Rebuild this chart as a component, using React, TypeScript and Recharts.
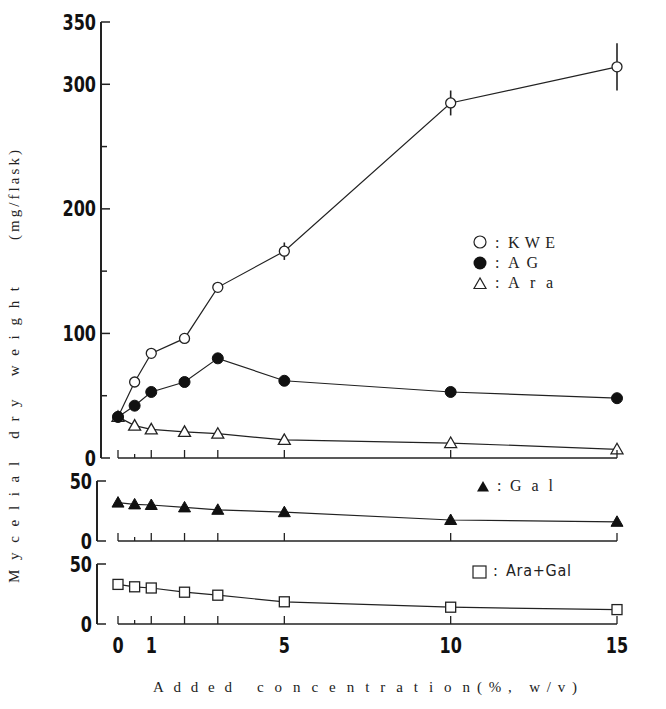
import React from "react";
import { LineChart, Line, XAxis, YAxis, ErrorBar, ReferenceLine } from "recharts";

// added concentration (%, w/v)
const conc = [0, 0.5, 1, 2, 3, 5, 10, 15];
// mycelial dry weight (mg/flask)
const kwe = [33, 61, 84, 96, 137, 166, 285, 314];
const kweErr = [0, 0, 0, 0, 0, 7, 10, 19];
const ag = [33, 42, 53, 61, 80, 62, 53, 48];
const ara = [33, 26, 23, 21, 19.5, 14.5, 12, 7];
const gal = [32, 30.5, 30, 28, 26, 24, 17.5, 16];
const araGal = [33, 31, 30, 26.5, 24, 18.5, 14, 12];

const topTicks = [0, 50, 100, 150, 200, 250, 300, 350];
const topLabels = [0, 100, 200, 300, 350];
const smallTicks = [0, 50];
const xLabels = [0, 1, 5, 10, 15];

const topData = conc.map((c, i) => ({ conc: c, kwe: kwe[i], kweErr: kweErr[i], ag: ag[i], ara: ara[i] }));
const galData = conc.map((c, i) => ({ conc: c, gal: gal[i] }));
const araGalData = conc.map((c, i) => ({ conc: c, araGal: araGal[i] }));

const INK = "#222";
const NUM_FONT = "'Liberation Sans Narrow', 'DejaVu Sans Condensed', sans-serif";
const SERIF = "'Liberation Serif', 'DejaVu Serif', serif";

const openCircle = (p: any) => (
  <circle key={`oc-${p.index}`} cx={p.cx} cy={p.cy} r={5} fill="#fff" stroke={INK} strokeWidth={1.3} />
);
const fullCircle = (p: any) => (
  <circle key={`fc-${p.index}`} cx={p.cx} cy={p.cy} r={5.5} fill="#111" stroke="#111" />
);
const triPts = (cx: number, cy: number) => `${cx},${cy - 6} ${cx - 6},${cy + 4.5} ${cx + 6},${cy + 4.5}`;
const openTri = (p: any) => (
  <polygon key={`ot-${p.index}`} points={triPts(p.cx, p.cy)} fill="#fff" stroke={INK} strokeWidth={1.3} />
);
const fullTri = (p: any) => (
  <polygon key={`ft-${p.index}`} points={triPts(p.cx, p.cy)} fill="#111" stroke="#111" />
);
const openSquare = (p: any) => (
  <rect key={`os-${p.index}`} x={p.cx - 5} y={p.cy - 5} width={10} height={10} fill="#fff" stroke={INK} strokeWidth={1.3} />
);

function XTick(props: any) {
  const { x, y, payload, showLabel } = props;
  const v = payload.value;
  return (
    <g>
      <line x1={x} y1={y} x2={x} y2={y - (v === 0.5 ? 4 : 8)} stroke={INK} strokeWidth={1.3} />
      {showLabel && xLabels.includes(v) && (
        <text transform={`translate(${x},${y + 29}) scale(0.85,1)`} textAnchor="middle"
          fontFamily={NUM_FONT} fontWeight="bold" fontSize={21} fill="#111">
          {v}
        </text>
      )}
    </g>
  );
}

function YTick(props: any) {
  const { x, y, payload, labels } = props;
  const v = payload.value;
  const major = labels.includes(v);
  return (
    <g>
      <line x1={x} y1={y} x2={x + (major ? 9 : 6)} y2={y} stroke={INK} strokeWidth={1.5} />
      {major && (
        <text transform={`translate(${x - 5},${y}) scale(0.85,1)`} dy="0.36em" textAnchor="end"
          fontFamily={NUM_FONT} fontWeight="bold" fontSize={21} fill="#111">
          {v}
        </text>
      )}
    </g>
  );
}

function Panel({ data, top, height, margin, padLeft, domain, ticks, labels, showX, children }: any) {
  return (
    <div style={{ position: "absolute", left: 0, top, width: 666, height }}>
      <LineChart width={666} height={height} data={data} margin={margin}>
        <XAxis
          dataKey="conc"
          type="number"
          domain={[0, 15]}
          ticks={conc}
          interval={0}
          padding={{ left: padLeft, right: 0 }}
          height={1}
          axisLine={false}
          tickLine={false}
          tickSize={0}
          tickMargin={0}
          tick={<XTick showLabel={showX} />}
        />
        <YAxis
          type="number"
          domain={domain}
          ticks={ticks}
          interval={0}
          width={1}
          axisLine={{ stroke: INK, strokeWidth: 2 }}
          tickLine={false}
          tickSize={0}
          tickMargin={0}
          tick={<YTick labels={labels} />}
        />
        <ReferenceLine segment={[{ x: 0, y: 0 }, { x: 15, y: 0 }]} stroke={INK} strokeWidth={1.5} />
        {children}
      </LineChart>
    </div>
  );
}

export default function App() {
  return (
    <div style={{ position: "absolute", left: 0, top: 0, width: 666, height: 709, background: "#fff", overflow: "hidden" }}>
      <Panel data={topData} top={0} height={470} margin={{ top: 22, right: 49, bottom: 11, left: 100 }} padLeft={17}
        domain={[0, 350]} ticks={topTicks} labels={topLabels} showX={false}>
        <Line dataKey="kwe" stroke={INK} strokeWidth={1.2} dot={openCircle} isAnimationActive={false}>
          <ErrorBar dataKey="kweErr" direction="y" width={0} stroke={INK} strokeWidth={1.6} />
        </Line>
        <Line dataKey="ara" stroke={INK} strokeWidth={1.2} dot={openTri} isAnimationActive={false} />
        <Line dataKey="ag" stroke={INK} strokeWidth={1.2} dot={fullCircle} isAnimationActive={false} />
      </Panel>
      <Panel data={galData} top={465} height={95} margin={{ top: 16, right: 49, bottom: 18, left: 96 }} padLeft={21}
        domain={[0, 50]} ticks={smallTicks} labels={smallTicks} showX={false}>
        <Line dataKey="gal" stroke={INK} strokeWidth={1.2} dot={fullTri} isAnimationActive={false} />
      </Panel>
      <Panel data={araGalData} top={550} height={120} margin={{ top: 14, right: 49, bottom: 45, left: 96 }} padLeft={21}
        domain={[0, 50]} ticks={smallTicks} labels={smallTicks} showX={true}>
        <Line dataKey="araGal" stroke={INK} strokeWidth={1.2} dot={openSquare} isAnimationActive={false} />
      </Panel>

      <svg width={666} height={709} style={{ position: "absolute", left: 0, top: 0, pointerEvents: "none" }}>
        {/* axis titles */}
        <g fontFamily={SERIF} fontSize={15} fill="#222">
          <text transform="translate(19,583) rotate(-90)" textLength={296} lengthAdjust="spacing">Mycelial dry weight</text>
          <text transform="translate(19,240) rotate(-90)" textLength={90} lengthAdjust="spacing">(mg/flask)</text>
        </g>
        <g fontFamily={SERIF} fontSize={15} fill="#222">
          <text x={153} y={692} textLength={79} lengthAdjust="spacing">Added</text>
          <text x={257} y={692} textLength={213} lengthAdjust="spacing">concentration</text>
          <text x={477} y={692} textLength={100} lengthAdjust="spacing">(%, w/v)</text>
        </g>

        {/* legends */}
        <g fontFamily={SERIF} fontSize={16} fill="#222">
          <circle cx={480} cy={242} r={6} fill="#fff" stroke={INK} strokeWidth={1.2} />
          <text x={495} y={248}>:</text>
          <text x={508} y={248} textLength={47} lengthAdjust="spacing">KWE</text>
          <circle cx={480} cy={263} r={6.5} fill="#111" />
          <text x={495} y={268}>:</text>
          <text x={508} y={268} textLength={30} lengthAdjust="spacing">AG</text>
          <polygon points={triPts(480, 284)} fill="#fff" stroke={INK} strokeWidth={1.2} />
          <text x={495} y={288}>:</text>
          <text x={508} y={288} textLength={45} lengthAdjust="spacing">Ara</text>
          <polygon points={triPts(483, 487)} fill="#111" />
          <text x={497} y={491}>:</text>
          <text x={510} y={491} textLength={43} lengthAdjust="spacing">Gal</text>
        </g>
        <rect x={473} y={566} width={13} height={12} fill="#fff" stroke={INK} strokeWidth={1.2} />
        <text x={493} y={576} fontFamily={NUM_FONT} fontSize={16} fill="#222">:</text>
        <text x={506} y={576} fontFamily={NUM_FONT} fontSize={16} fill="#222" textLength={65} lengthAdjust="spacing">Ara+Gal</text>
      </svg>
    </div>
  );
}
